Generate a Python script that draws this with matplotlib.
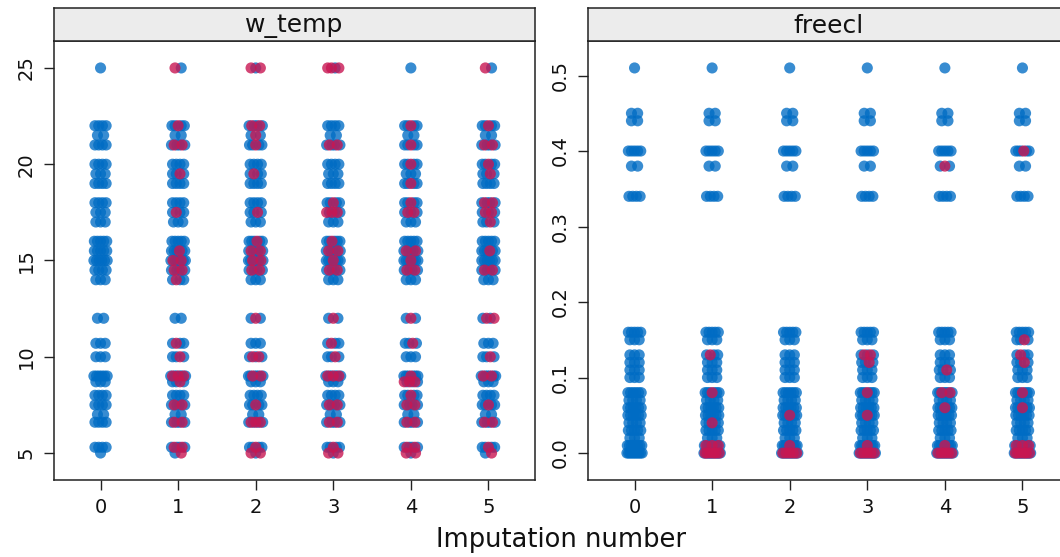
import numpy as np
import matplotlib
matplotlib.use("Agg")
import matplotlib.pyplot as plt

# ---------------- data ----------------
imputations = [0, 1, 2, 3, 4, 5]
panel_titles = ["w_temp", "freecl"]
xlabel = "Imputation number"

# observed values (levels and how many records sit on each level)
wtemp_obs_levels = [25, 22, 21.5, 21, 20, 19.5, 19, 18, 17.5, 17, 16, 15.5, 15,
                    14.5, 14, 12, 10.7, 10, 9, 8.7, 8, 7.5, 7, 6.6, 5.3, 5]
wtemp_obs_counts = [1, 4, 2, 4, 4, 3, 4, 4, 3, 3, 5, 5, 6,
                    4, 3, 2, 3, 3, 6, 3, 4, 4, 2, 4, 4, 1]

# imputed values for imputations 1..5
wtemp_imp_1 = [25, 22, 21, 21, 19.5, 17.5, 15.5, 15, 15, 14.5, 14.5, 14,
               10.7, 10, 9, 9, 9, 8.7, 7.5, 7.5, 6.6, 6.6, 5.3, 5.3, 5]
wtemp_imp_2 = [25, 25, 22, 22, 21.5, 21, 19.5, 17.5, 16, 15.5, 15.5, 15, 15,
               14.5, 14.5, 12, 10, 10, 9, 9, 7.5, 6.6, 6.6, 6.6, 5.3, 5, 5]
wtemp_imp_3 = [25, 25, 25, 21, 21, 18, 17.5, 17.5, 17.5, 16, 15.5, 15.5, 15,
               14.5, 14.5, 12, 10.7, 10, 9, 9, 9, 7.5, 7.5, 6.6, 6.6, 5.3, 5, 5]
wtemp_imp_4 = [22, 21, 20, 19, 18, 17.5, 17.5, 15.5, 15.5, 15, 14.5, 14.5,
               12, 10.7, 9, 8.7, 8.7, 8.7, 8, 7.5, 7.5, 6.6, 6.6, 5.3, 5.3, 5, 5]
wtemp_imp_5 = [25, 22, 21, 21, 20, 19.5, 18, 18, 17.5, 17.5, 17, 15.5, 14.5,
               14.5, 12, 12, 10, 9, 9, 7.5, 6.6, 6.6, 5.3, 5]

freecl_obs_levels = [0.51, 0.45, 0.44, 0.40, 0.38, 0.34, 0.16, 0.15, 0.13, 0.12,
                     0.11, 0.10, 0.08, 0.07, 0.06, 0.05, 0.04, 0.03, 0.02, 0.01, 0.00]
freecl_obs_counts = [1, 2, 2, 5, 2, 4, 5, 3, 3, 3,
                     3, 3, 6, 4, 6, 6, 4, 5, 3, 8, 10]

freecl_imp_1 = [0.13, 0.08, 0.04, 0.01, 0.01, 0.01, 0.00, 0.00, 0.00, 0.00, 0.00, 0.00]
freecl_imp_2 = [0.05, 0.01, 0.00, 0.00, 0.00, 0.00, 0.00]
freecl_imp_3 = [0.13, 0.13, 0.12, 0.08, 0.05, 0.01, 0.00, 0.00, 0.00, 0.00, 0.00]
freecl_imp_4 = [0.38, 0.11, 0.08, 0.08, 0.06, 0.01, 0.00, 0.00, 0.00, 0.00, 0.00]
freecl_imp_5 = [0.40, 0.15, 0.13, 0.12, 0.08, 0.06, 0.01, 0.01, 0.01,
                0.00, 0.00, 0.00, 0.00, 0.00, 0.00]

wtemp_imputed = [wtemp_imp_1, wtemp_imp_2, wtemp_imp_3, wtemp_imp_4, wtemp_imp_5]
freecl_imputed = [freecl_imp_1, freecl_imp_2, freecl_imp_3, freecl_imp_4, freecl_imp_5]

wtemp_yticks = [5, 10, 15, 20, 25]
freecl_yticks = [0.0, 0.1, 0.2, 0.3, 0.4, 0.5]
freecl_yticklabels = ["0.0", "0.1", "0.2", "0.3", "0.4", "0.5"]

# ---------------- style ----------------
BLUE = (0 / 255, 108 / 255, 196 / 255, 0.78)
RED = (200 / 255, 22 / 255, 82 / 255, 0.80)
MS = 64
JIT = 0.12

W, H = 1060, 557
fig = plt.figure(figsize=(W / 100, H / 100), dpi=100)
fig.patch.set_facecolor("white")


def px_axes(x0, y_top, x1, y_bot):
    return fig.add_axes([x0 / W, 1 - y_bot / H, (x1 - x0) / W, (y_bot - y_top) / H])


def strip_positions(obs_vals, imp_vals, m):
    """Spread points sharing a value evenly across the strip width."""
    groups = {}
    for v in obs_vals:
        groups.setdefault(round(v, 6), [0, 0])[0] += 1
    for v in imp_vals:
        groups.setdefault(round(v, 6), [0, 0])[1] += 1
    bx, by, rx, ry = [], [], [], []
    for gi, (v, (nb, nr)) in enumerate(groups.items()):
        n = nb + nr
        offs = [-JIT + 2 * JIT * (k + 1) / (n + 1) for k in range(n)]
        if (gi + m) % 2:
            offs = offs[::-1]
        red_idx = set()
        for j in range(nr):
            red_idx.add(min(n - 1, int((j + 0.5) * n / nr)))
        k_red = 0
        while len(red_idx) < nr:
            if k_red not in red_idx:
                red_idx.add(k_red)
            k_red += 1
        for k in range(n):
            if k in red_idx:
                rx.append(m + offs[k]); ry.append(v)
            else:
                bx.append(m + offs[k]); by.append(v)
    return bx, by, rx, ry


def draw_panel(ax, sax, title, levels, counts, imputed, ylim, yticks, yticklabels):
    obs = list(np.repeat(levels, counts))
    blue_x, blue_y, red_x, red_y = [], [], [], []
    for m in imputations:
        imp = [] if m == 0 else imputed[m - 1]
        bx, by, rx, ry = strip_positions(obs, imp, m)
        blue_x += bx; blue_y += by; red_x += rx; red_y += ry
    ax.scatter(blue_x, blue_y, s=MS, color=BLUE, edgecolors="none", zorder=2)
    ax.scatter(red_x, red_y, s=MS, color=RED, edgecolors="none", zorder=3)
    ax.set_xlim(-0.6, 5.6)
    ax.set_ylim(*ylim)
    ax.set_xticks(imputations)
    ax.set_xticklabels([str(i) for i in imputations])
    ax.set_yticks(yticks)
    ax.set_yticklabels(yticklabels, rotation=90, va="center")
    ax.tick_params(axis="both", direction="out", length=7, width=1.0,
                   labelsize=14, color="#222222", labelcolor="#111111")
    ax.tick_params(axis="x", pad=6)
    ax.tick_params(axis="y", pad=6)
    for sp in ax.spines.values():
        sp.set_linewidth(1.1)
        sp.set_color("#222222")
    # strip
    sax.set_facecolor("#ececec")
    sax.set_xticks([]); sax.set_yticks([])
    for sp in sax.spines.values():
        sp.set_linewidth(1.1)
        sp.set_color("#222222")
    sax.text(0.5, 0.45, title, transform=sax.transAxes, ha="center", va="center",
             fontsize=18, color="#111111")


axL = px_axes(54, 41, 535, 480)
sL = px_axes(54, 8, 535, 41)
axR = px_axes(588, 41, 1069, 480)
sR = px_axes(588, 8, 1069, 41)

pad_w = 0.07 * (25 - 5)
draw_panel(axL, sL, panel_titles[0], wtemp_obs_levels, wtemp_obs_counts, wtemp_imputed,
           (5 - pad_w, 25 + pad_w), wtemp_yticks, [str(t) for t in wtemp_yticks])
pad_f = 0.07 * (0.51 - 0.0)
draw_panel(axR, sR, panel_titles[1], freecl_obs_levels, freecl_obs_counts, freecl_imputed,
           (0.0 - pad_f, 0.51 + pad_f), freecl_yticks, freecl_yticklabels)

fig.text(561 / W, 1 - 540 / H, xlabel, ha="center", va="center", fontsize=18.5,
         color="#111111")

fig.savefig("out.png", dpi=100, facecolor="white")
